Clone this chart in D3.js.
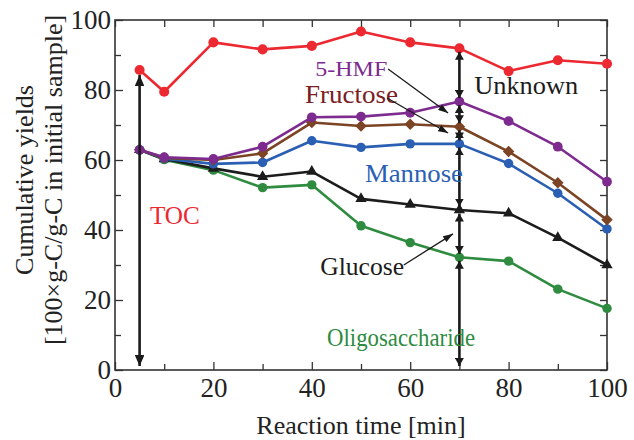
<!DOCTYPE html>
<html>
<head>
<meta charset="utf-8">
<script src="https://cdn.jsdelivr.net/npm/d3@7"></script>
<style>
  body { margin: 0; background: #fff; }
  svg { display: block; }
</style>
</head>
<body>
<div id="chart"></div>
<script>
// reaction time [min]
const times = [5, 10, 20, 30, 40, 50, 60, 70, 80, 90, 100];

// cumulative yields
const toc      = [85.7, 79.5, 93.6, 91.6, 92.6, 96.7, 93.6, 91.9, 85.4, 88.5, 87.5];
const hmf      = [62.9, 60.8, 60.3, 63.8, 72.2, 72.4, 73.5, 76.7, 71.1, 63.8, 53.8];
const fructose = [62.9, 60.6, 60.0, 61.9, 70.7, 69.7, 70.2, 69.5, 62.4, 53.5, 42.9];
const mannose  = [62.9, 60.4, 58.9, 59.3, 65.5, 63.6, 64.6, 64.6, 59.0, 50.5, 40.3];
const glucose  = [62.9, 60.3, 57.6, 55.2, 56.7, 48.9, 47.3, 45.7, 44.8, 37.8, 30.0];
const oligo    = [62.9, 60.1, 57.1, 52.1, 52.9, 41.2, 36.4, 32.2, 31.1, 23.1, 17.6];

const xMajor = [0, 20, 40, 60, 80, 100];
const xMinor = [10, 30, 50, 70, 90];
const yMajor = [0, 20, 40, 60, 80, 100];
const yMinor = [10, 30, 50, 70, 90];

const W = 634, H = 440;
const margin = { top: 20, right: 27, bottom: 70, left: 115 };

const svg = d3.select("#chart").append("svg")
    .attr("width", W)
    .attr("height", H);

const x = d3.scaleLinear().domain([0, 100]).range([margin.left, W - margin.right]);
const y = d3.scaleLinear().domain([0, 100]).range([H - margin.bottom, margin.top]);

// --- axes: ticks point inward on all four sides ---
const tickFont = "'Liberation Serif', 'Times New Roman', serif";
const axisColor = "#333";

function styleAxis(g) {
    g.select(".domain").remove();
    g.selectAll(".tick line").attr("stroke", axisColor).attr("stroke-width", 1.3);
    g.selectAll(".tick text")
        .attr("fill", "#222")
        .style("font-family", tickFont)
        .style("font-size", "27px");
}

svg.append("g")
    .attr("transform", `translate(0,${y(0)})`)
    .call(d3.axisBottom(x).tickValues(xMajor).tickSize(-8).tickPadding(8))
    .call(styleAxis);
svg.append("g")
    .attr("transform", `translate(0,${y(0)})`)
    .call(d3.axisBottom(x).tickValues(xMinor).tickSize(-6).tickFormat(""))
    .call(styleAxis);
svg.append("g")
    .attr("transform", `translate(0,${y(100)})`)
    .call(d3.axisTop(x).tickValues(xMajor.concat(xMinor)).tickSize(-7).tickFormat(""))
    .call(styleAxis);

svg.append("g")
    .attr("transform", `translate(${x(0)},0)`)
    .call(d3.axisLeft(y).tickValues(yMajor).tickSize(-8).tickPadding(4))
    .call(styleAxis);
svg.append("g")
    .attr("transform", `translate(${x(0)},0)`)
    .call(d3.axisLeft(y).tickValues(yMinor).tickSize(-6).tickFormat(""))
    .call(styleAxis);
svg.append("g")
    .attr("transform", `translate(${x(100)},0)`)
    .call(d3.axisRight(y).tickValues(yMajor.concat(yMinor)).tickSize(-7).tickFormat(""))
    .call(styleAxis);

svg.append("rect")
    .attr("x", x(0)).attr("y", y(100))
    .attr("width", x(100) - x(0)).attr("height", y(0) - y(100))
    .attr("fill", "none")
    .attr("stroke", axisColor)
    .attr("stroke-width", 1.6);

// axis titles
svg.append("text")
    .attr("x", (x(0) + x(100)) / 2)
    .attr("y", 434)
    .attr("text-anchor", "middle")
    .attr("fill", "#222")
    .style("font-family", tickFont)
    .style("font-size", "26px")
    .text("Reaction time [min]");

const yTitle = svg.append("text")
    .attr("transform", "translate(0,180) rotate(-90)")
    .attr("text-anchor", "middle")
    .attr("fill", "#222")
    .style("font-family", tickFont)
    .style("font-size", "26px");
yTitle.append("tspan").attr("x", 0).attr("y", 33).text("Cumulative yields");
yTitle.append("tspan").attr("x", 0).attr("y", 62).text("[100×g-C/g-C in initial sample]");

// --- arrow markers ---
const defs = svg.append("defs");
function marker(id, len, half) {
    defs.append("marker")
        .attr("id", id)
        .attr("markerUnits", "userSpaceOnUse")
        .attr("viewBox", `0 ${-half} ${len} ${half * 2}`)
        .attr("refX", len).attr("refY", 0)
        .attr("markerWidth", len).attr("markerHeight", half * 2)
        .attr("orient", "auto-start-reverse")
        .append("path")
        .attr("d", `M0,${-half}L${len},0L0,${half}Z`)
        .attr("fill", "#1a1a1a");
}
marker("big", 11, 4.8);
marker("small", 8, 4.5);
marker("thin", 10, 3.5);

// --- series ---
const diamond = d3.symbolDiamond2 || d3.symbolDiamond;
const series = [
    { name: "Oligosaccharide", values: oligo,    color: "#2e8b3f", shape: d3.symbolCircle,   size: 70 },
    { name: "Glucose",         values: glucose,  color: "#1c1c1c", shape: d3.symbolTriangle, size: 55 },
    { name: "Mannose",         values: mannose,  color: "#2b5fb4", shape: d3.symbolCircle,   size: 70 },
    { name: "Fructose",        values: fructose, color: "#7b4424", shape: diamond,           size: 85 },
    { name: "5-HMF",           values: hmf,      color: "#7d2b8f", shape: d3.symbolCircle,   size: 75 },
    { name: "TOC",             values: toc,      color: "#ec2830", shape: d3.symbolCircle,   size: 80 }
];

const line = d3.line().x((d, i) => x(times[i])).y(d => y(d));

series.forEach(s => {
    const g = svg.append("g").attr("class", "series");
    g.append("path")
        .datum(s.values)
        .attr("d", line)
        .attr("fill", "none")
        .attr("stroke", s.color)
        .attr("stroke-width", 2.6)
        .attr("stroke-linejoin", "round");
    g.selectAll("path.pt")
        .data(s.values)
        .join("path")
        .attr("class", "pt")
        .attr("transform", (d, i) => `translate(${x(times[i])},${y(d)})`)
        .attr("d", d3.symbol().type(s.shape).size(s.size))
        .attr("fill", s.color);
});

// --- vertical double arrows ---
const arrows = svg.append("g").attr("stroke", "#1a1a1a").attr("fill", "none");

// TOC bracket at the first sample
arrows.append("line")
    .attr("x1", x(times[0])).attr("x2", x(times[0]))
    .attr("y1", y(toc[0]) + 5).attr("y2", y(0) - 4)
    .attr("stroke-width", 2.6)
    .attr("marker-start", "url(#big)")
    .attr("marker-end", "url(#big)");

// breakdown at 70 min
const k = times.indexOf(70);
const levels = [toc[k], hmf[k], fructose[k], mannose[k], glucose[k], oligo[k], 0];
for (let i = 0; i < levels.length - 1; i++) {
    arrows.append("line")
        .attr("x1", x(70)).attr("x2", x(70))
        .attr("y1", y(levels[i]) + 3.5)
        .attr("y2", y(levels[i + 1]) - (i === levels.length - 2 ? 4 : 3.5))
        .attr("stroke-width", 2.6)
        .attr("marker-start", "url(#small)")
        .attr("marker-end", "url(#small)");
}

// --- labels and pointer arrows ---
const labels = [
    { text: "5-HMF",           x: 40.7, y: 84.0, color: "#7d2b8f", size: 21, width: 72 },
    { text: "Fructose",        x: 38.6, y: 76.3, color: "#7a2024", size: 25, width: 93 },
    { text: "Unknown",         x: 73.0, y: 79.0, color: "#1c1c1c", size: 25, width: 104 },
    { text: "Mannose",         x: 50.8, y: 53.7, color: "#2b5fb4", size: 25, width: 98 },
    { text: "TOC",             x: 7.1,  y: 41.7, color: "#ec2830", size: 25, width: 50 },
    { text: "Glucose",         x: 41.7, y: 27.1, color: "#1c1c1c", size: 25, width: 84 },
    { text: "Oligosaccharide", x: 43.1, y: 6.9,  color: "#2e8b3f", size: 26, width: 148 }
];

svg.append("g").selectAll("text")
    .data(labels)
    .join("text")
    .attr("x", d => x(d.x))
    .attr("y", d => y(d.y))
    .attr("fill", d => d.color)
    .attr("textLength", d => d.width)
    .attr("lengthAdjust", "spacingAndGlyphs")
    .style("font-family", tickFont)
    .style("font-size", d => d.size + "px")
    .text(d => d.text);

const pointers = [
    { from: [55.5, 86.0], to: [67.7, 73.4] },
    { from: [55.3, 77.7], to: [67.7, 67.7] },
    { from: [58.7, 30.0], to: [68.7, 38.9] }
];

svg.append("g").selectAll("line")
    .data(pointers)
    .join("line")
    .attr("x1", d => x(d.from[0])).attr("y1", d => y(d.from[1]))
    .attr("x2", d => x(d.to[0])).attr("y2", d => y(d.to[1]))
    .attr("stroke", "#1a1a1a")
    .attr("stroke-width", 1.3)
    .attr("marker-end", "url(#thin)");
</script>
</body>
</html>
